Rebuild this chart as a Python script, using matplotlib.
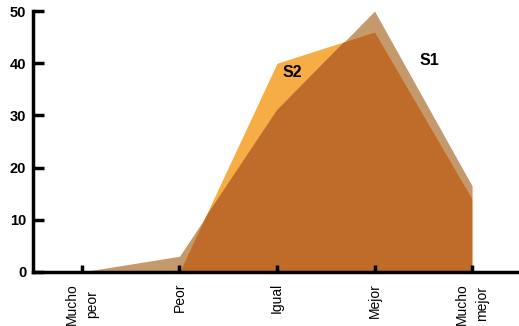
import matplotlib.pyplot as plt
import numpy as np
from matplotlib.patches import Polygon

plt.rcParams['font.family'] = ['Liberation Sans', 'DejaVu Sans']

# Survey answer categories and the two series
categories = ['Mucho\npeor', 'Peor', 'Igual', 'Mejor', 'Mucho\nmejor']
s1 = [0, 3, 31, 50, 16.5]
s2 = [0, 0, 40, 46, 14]

c_s1 = '#c4996b'
c_s2 = '#f7ad45'
c_both = '#bf6c2a'

fig = plt.figure(figsize=(5.19, 3.26), dpi=100)
ax = fig.add_axes([0.064, 0.166, 0.932, 0.8])

x = np.arange(len(categories))

# back series, front series, then the overlap in the darker tone
ax.fill_between(x, 0, s1, color=c_s1, linewidth=0)
ax.fill_between(x, 0, s2, color=c_s2, linewidth=0)
overlap = ax.fill_between(x, 0, s2, color=c_both, linewidth=0)
clip = Polygon(np.column_stack([np.r_[x, x[::-1]], np.r_[s1, np.zeros(len(x))]]),
               closed=True, transform=ax.transData, visible=False)
ax.add_patch(clip)
overlap.set_clip_path(clip)

ax.text(x[2] + 0.06, s2[2] - 0.3, 'S2', fontsize=11.5, fontweight='bold', va='top')
ax.text(x[3] + 0.46, s1[3] - 9.5, 'S1', fontsize=11.5, fontweight='bold', va='center')

ax.set_xlim(-0.5, 4.46)
ax.set_ylim(0, 50)
ax.set_xticks(x)
ax.set_xticklabels(categories, rotation=90, fontsize=10, va='top', linespacing=1.5)
ax.set_yticks([0, 10, 20, 30, 40, 50])
ax.set_yticklabels(['0', '10', '20', '30', '40', '50'], fontsize=10.5, fontweight='bold')

for side in ['top', 'right']:
    ax.spines[side].set_visible(False)
for side in ['left', 'bottom']:
    ax.spines[side].set_linewidth(2.5)
ax.tick_params(axis='y', direction='in', length=8, width=2.5, pad=5)
ax.tick_params(axis='x', direction='in', length=5, width=2.5, pad=8)

fig.savefig('out.png', dpi=100)
